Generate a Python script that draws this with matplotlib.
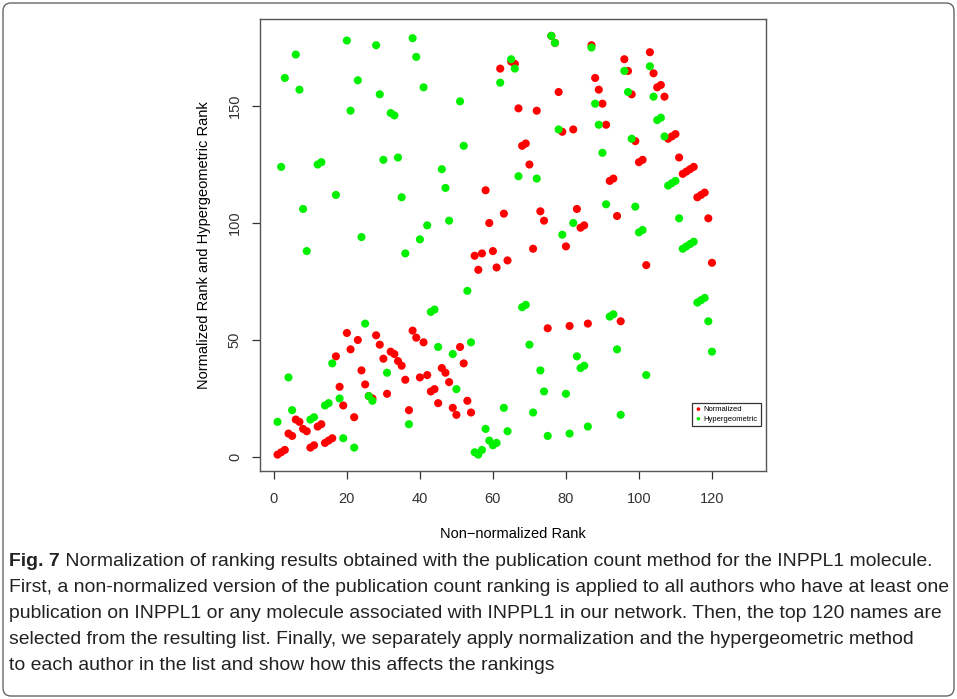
import matplotlib
matplotlib.use('Agg')
import matplotlib.pyplot as plt
import matplotlib.patches as mpatches
import matplotlib.transforms as mtransforms
import numpy as np

# rank positions 1..120 (non-normalized rank)
rank = np.arange(1, 121)

normalized = [1, 2, 3, 10, 9, 16, 15, 12, 11, 4,
              5, 13, 14, 6, 7, 8, 43, 30, 22, 53,
              46, 17, 50, 37, 31, 26, 25, 52, 48, 42,
              27, 45, 44, 41, 39, 33, 20, 54, 51, 34,
              49, 35, 28, 29, 23, 38, 36, 32, 21, 18,
              47, 40, 24, 19, 86, 80, 87, 114, 100, 88,
              81, 166, 104, 84, 169, 168, 149, 133, 134, 125,
              89, 148, 105, 101, 55, 180, 177, 156, 139, 90,
              56, 140, 106, 98, 99, 57, 176, 162, 157, 151,
              142, 118, 119, 103, 58, 170, 165, 155, 135, 126,
              127, 82, 173, 164, 158, 159, 154, 136, 137, 138,
              128, 121, 122, 123, 124, 111, 112, 113, 102, 83]

hypergeometric = [15, 124, 162, 34, 20, 172, 157, 106, 88, 16,
                  17, 125, 126, 22, 23, 40, 112, 25, 8, 178,
                  148, 4, 161, 94, 57, 26, 24, 176, 155, 127,
                  36, 147, 146, 128, 111, 87, 14, 179, 171, 93,
                  158, 99, 62, 63, 47, 123, 115, 101, 44, 29,
                  152, 133, 71, 49, 2, 1, 3, 12, 7, 5,
                  6, 160, 21, 11, 170, 166, 120, 64, 65, 48,
                  19, 119, 37, 28, 9, 180, 177, 140, 95, 27,
                  10, 100, 43, 38, 39, 13, 175, 151, 142, 130,
                  108, 60, 61, 46, 18, 165, 156, 136, 107, 96,
                  97, 35, 167, 154, 144, 145, 137, 116, 117, 118,
                  102, 89, 90, 91, 92, 66, 67, 68, 58, 45]

x_ticks = [0, 20, 40, 60, 80, 100, 120]
y_ticks = [0, 50, 100, 150]

caption_bold = 'Fig. 7'
caption_lines = [
    ' Normalization of ranking results obtained with the publication count method for the INPPL1 molecule.',
    'First, a non-normalized version of the publication count ranking is applied to all authors who have at least one',
    'publication on INPPL1 or any molecule associated with INPPL1 in our network. Then, the top 120 names are',
    'selected from the resulting list. Finally, we separately apply normalization and the hypergeometric method',
    'to each author in the list and show how this affects the rankings',
]

plt.rcParams['font.family'] = ['Liberation Sans', 'DejaVu Sans']

W, H = 957, 699
fig = plt.figure(figsize=(W / 100, H / 100), dpi=100)
ax = fig.add_axes([260 / W, 1 - 471 / H, 506 / W, 452 / H])

ax.scatter(rank, normalized, s=34, color='#ff0000', edgecolors='none', label='Normalized', zorder=3)
ax.scatter(rank, hypergeometric, s=34, color='#00f000', edgecolors='none', label='Hypergeometric', zorder=3)

ax.set_xlim(-3.8, 134.8)
ax.set_ylim(-6, 187.2)
ax.set_xticks(x_ticks)
ax.set_yticks(y_ticks)
ax.tick_params(direction='out', length=6, width=0.9, colors='#333333', labelsize=10.5, pad=7)
ax.tick_params(axis='x', pad=9)
for t in ax.get_yticklabels():
    t.set_rotation(90)
    t.set_va('center')
for s in ax.spines.values():
    s.set_color('#555555')
    s.set_linewidth(1.0)

ax.set_xlabel('Non\u2212normalized Rank', fontsize=10.5, labelpad=15)
ax.set_ylabel('Normalized Rank and Hypergeometric Rank', fontsize=10.5, labelpad=12)

leg = ax.legend(loc='lower right', bbox_to_anchor=(0.99, 0.1), fontsize=5.5, frameon=True,
                fancybox=False, edgecolor='black', handletextpad=0.3, borderpad=0.4,
                labelspacing=0.3, markerscale=0.45, handlelength=0.8, borderaxespad=0)
leg.get_frame().set_linewidth(0.9)

# outer rounded frame around figure and caption
frame = mpatches.FancyBboxPatch((3, 3), W - 6, H - 6, boxstyle='round,pad=0,rounding_size=8',
                                transform=mtransforms.IdentityTransform(), fill=False,
                                edgecolor='#666666', linewidth=1.0)
fig.patches.append(frame)

# caption, sized so the widest line fills the width
cap_family = ['Liberation Sans Narrow', 'Liberation Sans', 'DejaVu Sans']
renderer = fig.canvas.get_renderer()
fs = 13.0
for _ in range(4):
    for t in list(fig.texts):
        t.remove()
    y0 = 1 - 561 / H
    step = 26 / H
    tb = fig.text(9 / W, y0, caption_bold, fontsize=fs, fontweight='bold', family=cap_family,
                  va='center', ha='left', color='#222222')
    bb = tb.get_window_extent(renderer)
    objs = [fig.text(bb.x1 / W, y0, caption_lines[0], fontsize=fs, family=cap_family,
                     va='center', ha='left', color='#222222')]
    for i, line in enumerate(caption_lines[1:], start=1):
        objs.append(fig.text(9 / W, y0 - i * step, line, fontsize=fs, family=cap_family,
                             va='center', ha='left', color='#222222'))
    right = max(o.get_window_extent(renderer).x1 for o in objs)
    fs = fs * (944 - 9) / (right - 9)

fig.savefig('out.png', dpi=100)
